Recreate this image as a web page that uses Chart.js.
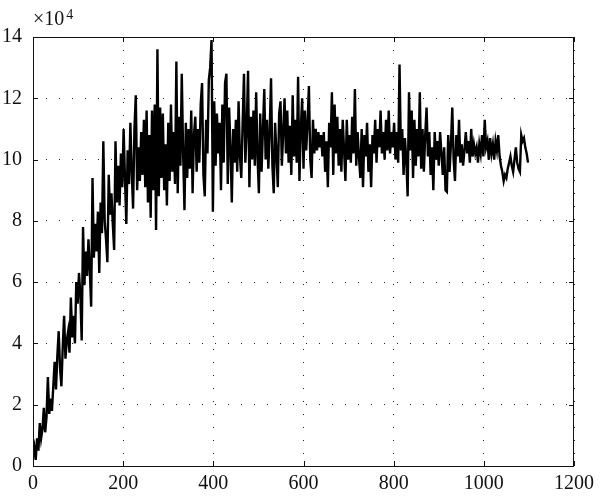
<!DOCTYPE html>
<html>
<head>
<meta charset="utf-8">
<script src="https://cdn.jsdelivr.net/npm/chart.js@4/dist/chart.umd.min.js"></script>
<style>
  html, body { margin: 0; padding: 0; background: #fff; }
  #wrap { width: 600px; height: 501px; position: relative; }
</style>
</head>
<body>
<div id="wrap"><canvas id="c" width="600" height="501"></canvas></div>
<script>
// Sample spacing of the series along the x axis (iterations)
const sampleStep = 3;
// Values in units of 10^4, one every 3 iterations
const values = [
  // 0 - 96
  0.3,0.6,0.2,0.9,0.5, 1.4,0.9,1.2,1.9,1.1, 1.6,2.9,1.7,2.2,1.8, 2.6,3.4,2.5,3.6,4.4, 3.2,2.6,3.9,4.9,3.5, 4.1,4.4,3.7,5.5,4.2, 4.9,4.0,6.0,
  // 99 - 195
  5.3,6.3,5.6,4.1,7.8, 5.9,7.0,6.2,7.4,6.4, 5.2,9.4,6.8,7.9,7.0, 8.3,6.3,8.6,7.6,10.6, 8.0,7.4,6.65,9.5,8.2, 8.9,7.9,7.05,10.6,8.6, 9.8,8.5,10.2,
  // 198 - 294
  9.1,11.0,9.4,7.9,10.3, 9.2,11.2,9.6,8.4,11.0, 12.1,9.0,10.4,9.3,10.9, 9.5,11.3,9.1,11.6,8.6, 10.8,8.1,11.6,9.0,11.8, 7.7,13.6,8.8,11.7,9.4, 11.5,9.0,10.5,
  // 297 - 393
  8.5,11.2,9.3,11.8,9.6, 10.9,9.2,13.2,8.9,11.4, 9.8,12.8,10.2,8.35,11.2, 9.4,11.0,9.7,11.6,8.9, 10.8,11.4,9.6,11.0,9.9, 11.8,12.5,9.5,8.8,11.3, 10.2,12.6,13.0,
  // 396 - 492
  13.9,8.3,11.9,9.8,11.5, 10.2,11.2,9.0,11.8,9.9, 12.5,12.8,9.2,11.7,10.4, 8.6,11.0,9.9,11.3,9.6, 11.9,10.1,9.4,11.2,12.8, 9.9,11.0,12.9,9.1,11.4, 10.0,11.6,9.8,
  // 495 - 591
  12.2,10.1,8.9,11.5,9.6, 11.0,12.3,10.0,11.3,9.7, 10.9,12.65,9.8,8.9,11.2, 10.2,9.1,11.5,11.9,9.8, 10.9,12.0,10.2,11.6,9.9, 11.1,9.5,12.1,10.1,11.3, 9.9,12.7,9.3,
  // 594 - 690
  11.0,12.0,9.7,11.6,10.3, 11.2,12.4,10.0,9.4,11.3, 10.2,11.0,10.3,10.9,10.4, 10.8,10.1,10.9,9.6,10.6, 9.1,11.2,10.4,12.2,9.5, 11.8,10.2,11.4,9.8,11.0, 9.6,11.3,10.3,
  // 693 - 789
  9.3,11.3,10.0,10.8,9.9, 11.4,10.2,12.3,9.8,10.9, 10.1,9.4,11.0,9.1,10.8, 10.1,11.2,9.6,10.5,9.1, 10.8,10.2,11.3,9.9,11.0, 10.4,11.6,10.2,10.9,10.0, 11.3,10.3,11.6,
  // 792 - 888
  10.2,10.9,10.4,11.2,10.0, 10.9,9.9,13.1,10.3,11.0, 9.5,10.7,10.0,8.8,12.2, 10.3,11.6,9.4,11.3,9.8, 11.0,10.1,12.2,9.7,11.0, 9.6,10.8,11.7,10.1,10.9, 9.5,10.4,9.0,
  // 891 - 987
  10.9,10.0,10.6,9.8,10.9, 10.2,9.5,10.4,9.0,8.95, 10.8,9.6,10.5,11.7,10.0, 9.3,10.8,10.1,11.3,9.9, 10.5,9.8,10.3,10.9,10.2, 10.6,9.9,11.0,10.1,10.5, 10.2,10.4,9.9,
  // 990 - 1098
  10.5,10.2,10.8,10.1,11.3, 10.4,10.6,10.0,10.7,10.2, 10.5,10.0,10.6,10.3,10.8, 10.1,9.8,9.6,9.3,9.5, 9.4,9.7,9.9,10.1,9.8, 9.6,10.0,10.4,9.9,9.7, 9.6,10.8,10.6,10.7,10.4, 10.2,9.9
];
const xTicks = [0, 200, 400, 600, 800, 1000, 1200];
const yTicks = [0, 2, 4, 6, 8, 10, 12, 14];
const yExponentLabel = ['\u00d710', '4'];

const points = values.map((v, i) => ({ x: i * sampleStep, y: v }));

const FONT = '"Liberation Serif", "Times New Roman", serif';

const frame = {
  id: 'frame',
  afterDraw(chart) {
    const { ctx, chartArea: a, scales } = chart;
    ctx.save();
    ctx.strokeStyle = '#111';
    ctx.lineWidth = 1;
    ctx.setLineDash([]);
    ctx.strokeRect(Math.round(a.left) + 0.5, Math.round(a.top) + 0.5,
                   Math.round(a.right - a.left) - 1, Math.round(a.bottom - a.top));
    // inner tick marks
    const tl = 5;
    ctx.beginPath();
    xTicks.forEach(t => {
      const x = Math.round(scales.x.getPixelForValue(t)) + 0.5;
      ctx.moveTo(x, a.bottom); ctx.lineTo(x, a.bottom - tl);
      ctx.moveTo(x, a.top); ctx.lineTo(x, a.top + tl);
    });
    yTicks.forEach(t => {
      const y = Math.round(scales.y.getPixelForValue(t)) + 0.5;
      ctx.moveTo(a.left, y); ctx.lineTo(a.left + tl, y);
      ctx.moveTo(a.right, y); ctx.lineTo(a.right - tl, y);
    });
    ctx.stroke();
    // exponent label
    ctx.fillStyle = '#111';
    ctx.textBaseline = 'alphabetic';
    ctx.textAlign = 'left';
    ctx.font = '20px ' + FONT;
    ctx.fillText(yExponentLabel[0], a.left, 25);
    const w = ctx.measureText(yExponentLabel[0]).width;
    ctx.font = '14px ' + FONT;
    ctx.fillText(yExponentLabel[1], a.left + w + 2, 19);
    ctx.restore();
  }
};

new Chart(document.getElementById('c'), {
  type: 'line',
  data: {
    datasets: [{
      data: points,
      borderColor: '#000',
      borderWidth: 2.4,
      pointRadius: 0,
      tension: 0,
      fill: false
    }]
  },
  options: {
    responsive: false,
    animation: false,
    events: [],
    layout: { padding: { left: 0, right: 23, top: 37, bottom: 0 } },
    plugins: { legend: { display: false }, tooltip: { enabled: false } },
    scales: {
      x: {
        type: 'linear',
        min: 0, max: 1200,
        afterFit(s) { s.height = 35; },
        afterBuildTicks(s) { s.ticks = xTicks.map(v => ({ value: v })); },
        ticks: { color: '#111', font: { family: FONT, size: 20 }, padding: 6, maxRotation: 0, autoSkip: false,
                 callback: v => String(v) },
        grid: { color: '#222', lineWidth: 1, drawTicks: false },
        border: { display: false, dash: [1, 12] }
      },
      y: {
        type: 'linear',
        min: 0, max: 14,
        afterFit(s) { s.width = 33; },
        afterBuildTicks(s) { s.ticks = yTicks.map(v => ({ value: v })); },
        ticks: { color: '#111', font: { family: FONT, size: 20 }, padding: 11, callback: v => String(v) },
        grid: { color: '#222', lineWidth: 1, drawTicks: false },
        border: { display: false, dash: [1, 12] }
      }
    }
  },
  plugins: [frame]
});
</script>
</body>
</html>
